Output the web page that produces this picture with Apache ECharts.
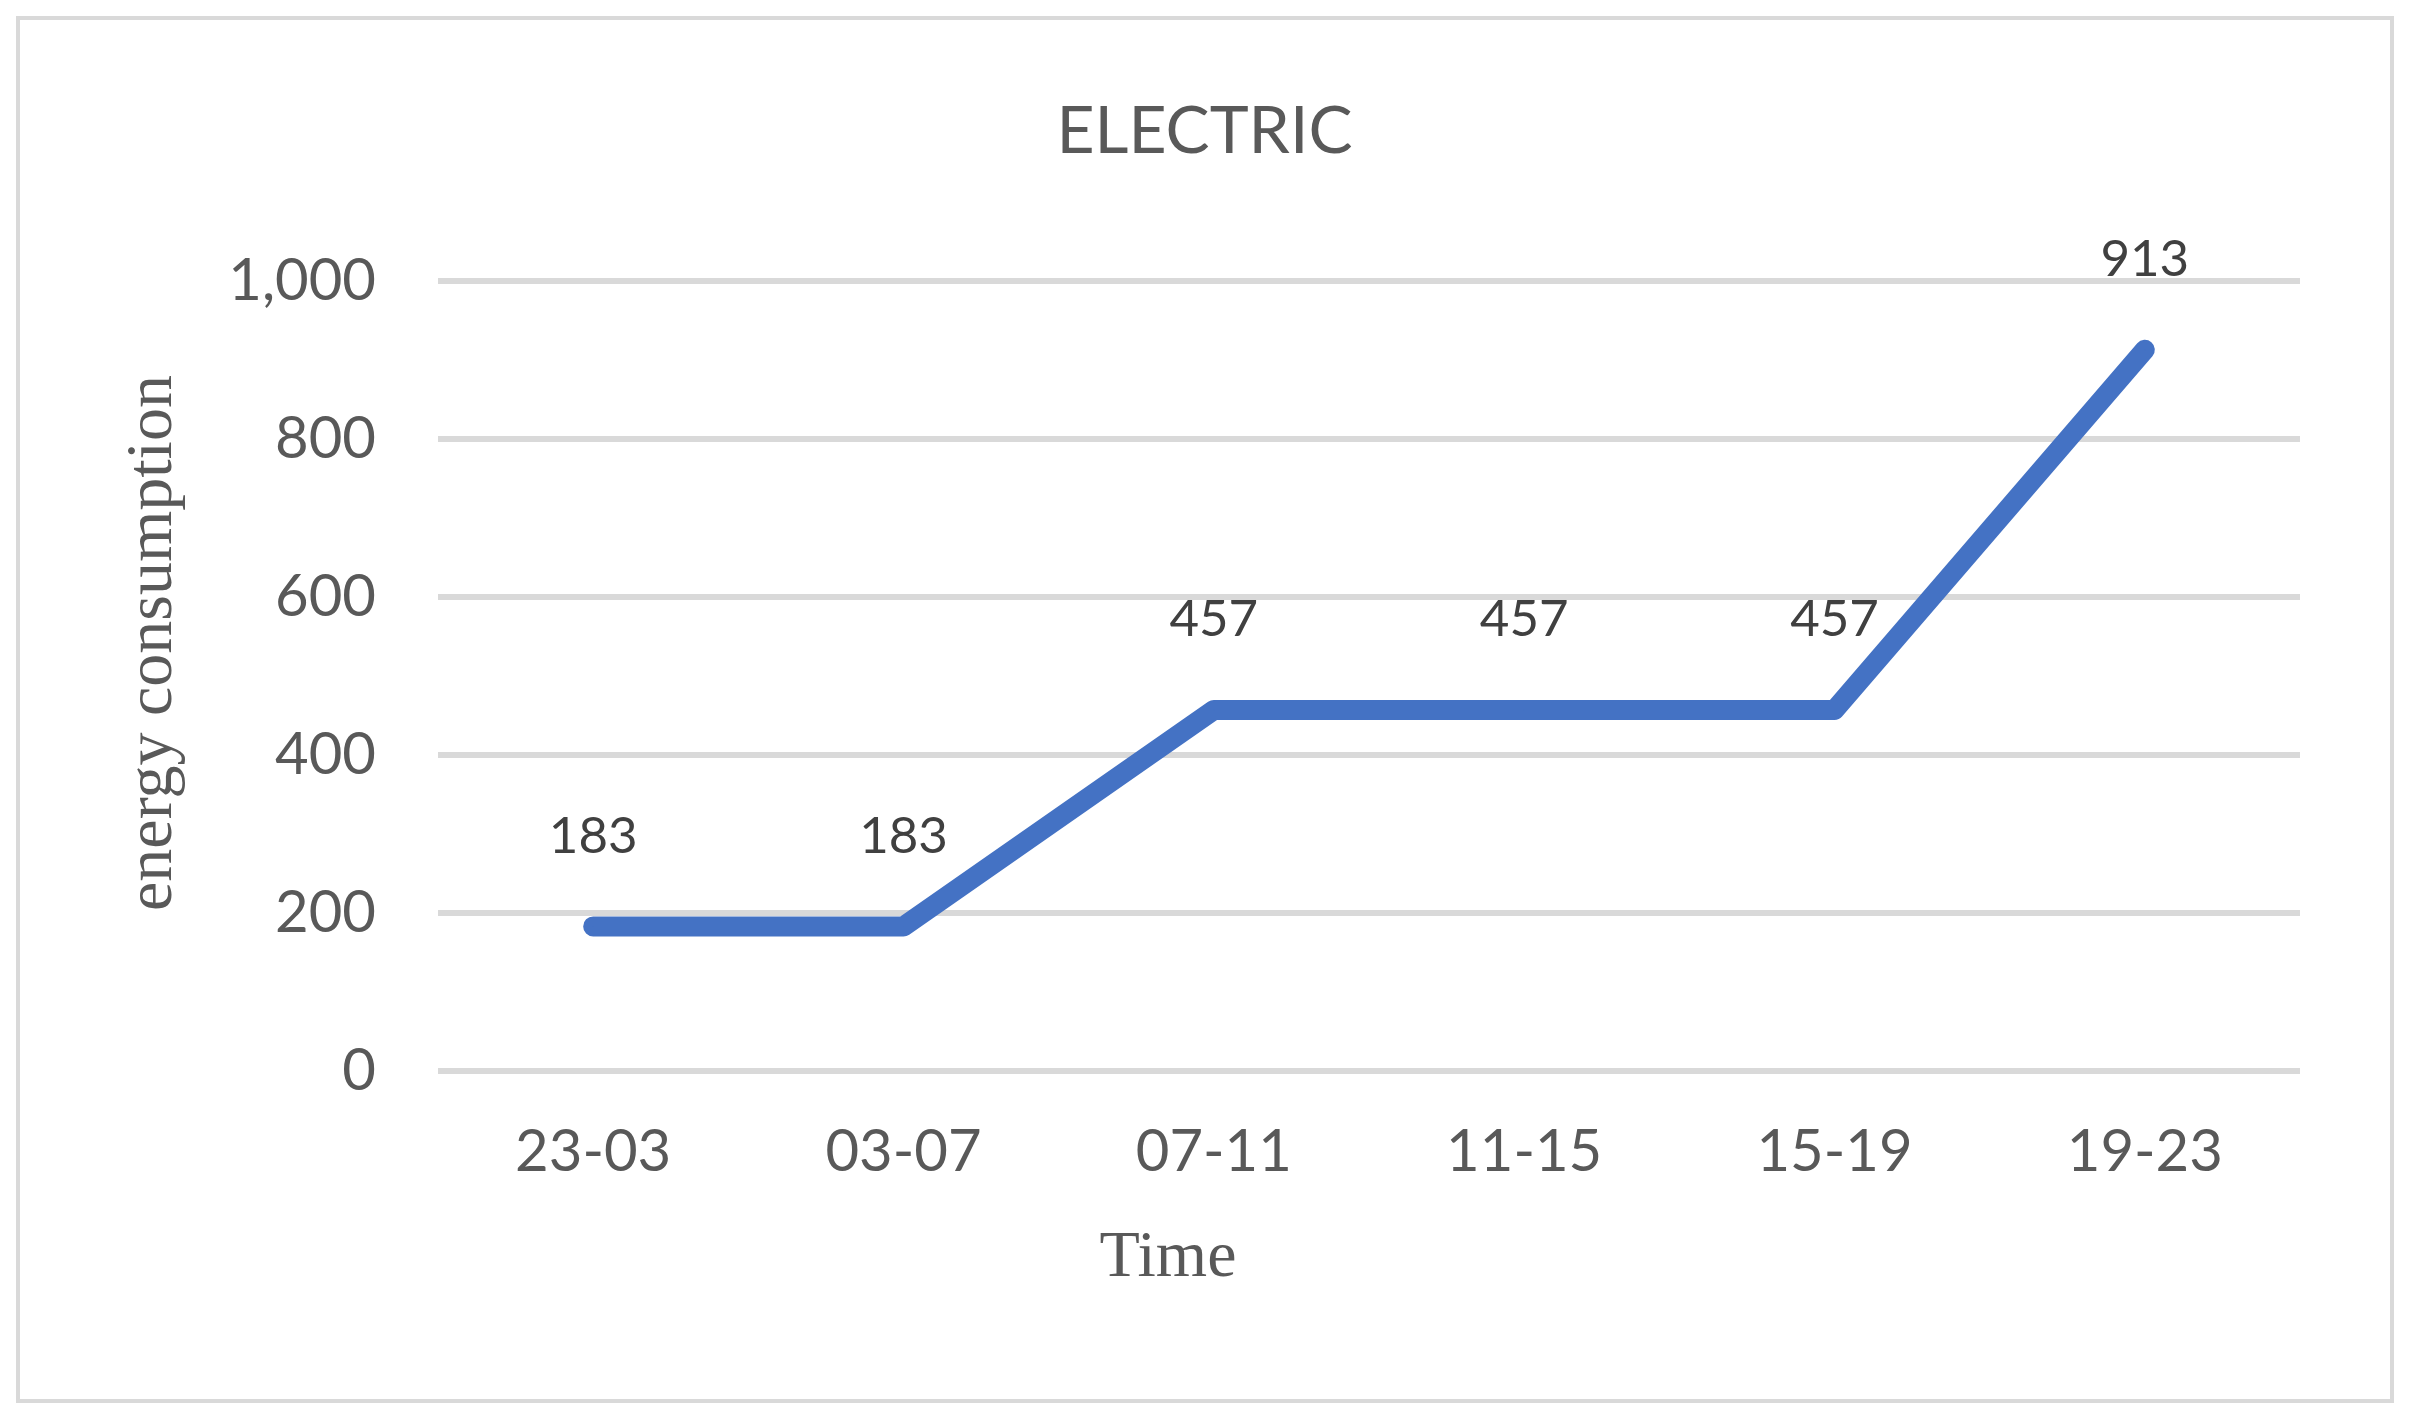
<!DOCTYPE html>
<html>
<head>
<meta charset="utf-8">
<script src="https://cdn.jsdelivr.net/npm/echarts@6/dist/echarts.min.js"></script>
<style>
html,body{margin:0;padding:0;background:#fff;}
#chart{width:2409px;height:1423px;}
</style>
</head>
<body>
<div id="chart"></div>
<script>
const categories = ['23-03', '03-07', '07-11', '11-15', '15-19', '19-23'];
const electricValues = [183, 183, 457, 457, 457, 913];
const yTicks = { min: 0, max: 1000, interval: 200 };
const titleText = 'ELECTRIC';
const xTitle = 'Time';
const yTitle = 'energy consumption';

const chart = echarts.init(document.getElementById('chart'), null, { renderer: 'canvas' });
chart.setOption({
  backgroundColor: '#ffffff',
  animation: false,
  title: {
    text: titleText,
    left: 'center',
    top: 92,
    textStyle: { fontFamily: 'Lato', fontSize: 66, fontWeight: 'normal', color: '#595959', lineHeight: 70 }
  },
  graphic: [
    { type: 'rect', shape: { x: 18, y: 18, width: 2374, height: 1383 }, style: { fill: 'none', stroke: '#d9d9d9', lineWidth: 4 }, silent: true },
    { type: 'text', x: 1168, y: 1259, style: { text: xTitle, fontFamily: 'Liberation Serif', fontSize: 66, fill: '#595959', textAlign: 'center', textVerticalAlign: 'middle' } },
    { type: 'text', x: 154, y: 643, rotation: Math.PI / 2, style: { text: yTitle, fontFamily: 'Liberation Serif', fontSize: 66, fill: '#595959', textAlign: 'center', textVerticalAlign: 'middle' } }
  ],
  grid: { left: 438, right: 109, top: 281, bottom: 352, containLabel: false },
  xAxis: {
    type: 'category',
    data: categories,
    boundaryGap: true,
    axisLine: { show: false },
    axisTick: { show: false },
    axisLabel: { fontFamily: 'Lato', fontSize: 58, color: '#595959', margin: 52 }
  },
  yAxis: {
    type: 'value',
    min: yTicks.min,
    max: yTicks.max,
    interval: yTicks.interval,
    axisLine: { show: false },
    axisTick: { show: false },
    axisLabel: {
      fontFamily: 'Lato', fontSize: 58, color: '#595959', margin: 62,
      formatter: v => v.toLocaleString('en-US')
    },
    splitLine: { lineStyle: { color: '#d9d9d9', width: 6 } }
  },
  series: [{
    type: 'line',
    data: electricValues,
    showSymbol: true,
    symbol: 'circle',
    symbolSize: 1,
    itemStyle: { color: '#4472C4' },
    lineStyle: { color: '#4472C4', width: 20, cap: 'round', join: 'round' },
    label: {
      show: true,
      position: 'top',
      distance: 64,
      fontFamily: 'Lato',
      fontSize: 51,
      color: '#404040'
    }
  }]
});
</script>
</body>
</html>
